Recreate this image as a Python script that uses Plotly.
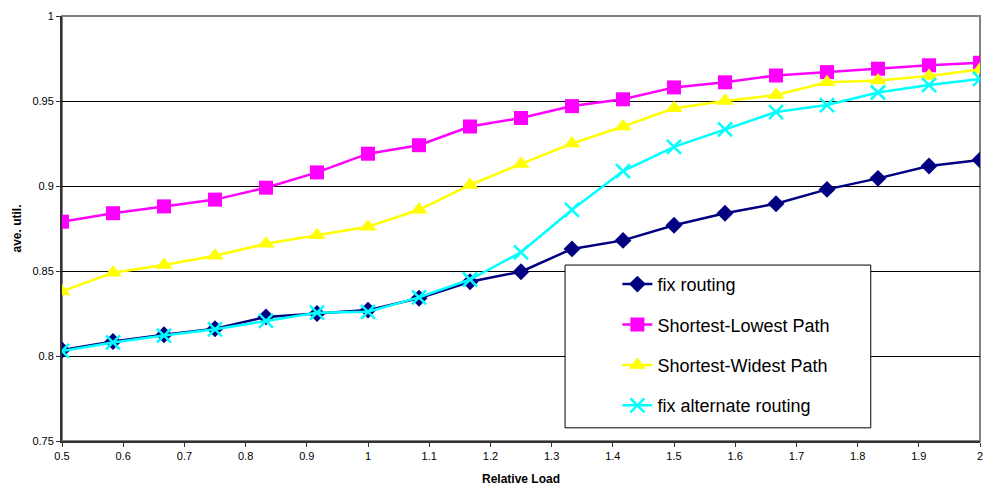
import plotly.graph_objects as go

x_load = [0.5, 0.5833, 0.6667, 0.75, 0.8333, 0.9167, 1.0, 1.0833, 1.1667, 1.25,
          1.3333, 1.4167, 1.5, 1.5833, 1.6667, 1.75, 1.8333, 1.9167, 2.0]

fix_routing = [0.8035, 0.8085, 0.8125, 0.816, 0.823, 0.825, 0.827, 0.834, 0.8437, 0.8496,
               0.863, 0.868, 0.8769, 0.884, 0.8896, 0.898, 0.9045, 0.9118, 0.9153]
shortest_lowest = [0.879, 0.884, 0.888, 0.892, 0.899, 0.908, 0.919, 0.924, 0.935, 0.940,
                   0.947, 0.951, 0.958, 0.961, 0.965, 0.967, 0.969, 0.971, 0.9725]
shortest_widest = [0.838, 0.849, 0.8535, 0.859, 0.866, 0.871, 0.876, 0.886, 0.9006, 0.913,
                   0.925, 0.935, 0.9457, 0.950, 0.9535, 0.961, 0.962, 0.9647, 0.9686]
fix_alternate = [0.803, 0.808, 0.812, 0.8157, 0.8206, 0.8255, 0.826, 0.8345, 0.845, 0.861,
                 0.886, 0.9088, 0.923, 0.9333, 0.9435, 0.9476, 0.955, 0.9594, 0.963]

series_names = ["fix routing", "Shortest-Lowest Path", "Shortest-Widest Path", "fix alternate routing"]

fig = go.Figure()
fig.add_trace(go.Scatter(x=x_load, y=fix_routing, name=series_names[0], mode="lines+markers",
                         legendgroup="a",
                         line=dict(color="#000080", width=2.5),
                         marker=dict(symbol="diamond", size=13, color="#000080")))
fig.add_trace(go.Scatter(x=x_load, y=shortest_lowest, name=series_names[1], mode="lines+markers",
                         legendgroup="b",
                         line=dict(color="#FF00FF", width=2.5),
                         marker=dict(symbol="square", size=14, color="#FF00FF")))
fig.add_trace(go.Scatter(x=x_load, y=shortest_widest, name=series_names[2], mode="lines+markers",
                         legendgroup="c",
                         line=dict(color="#FFFF00", width=2.5),
                         marker=dict(symbol="triangle-up", size=15, color="#FFFF00")))
fig.add_trace(go.Scatter(x=x_load, y=fix_alternate, name=series_names[3], mode="lines+markers",
                         legendgroup="d",
                         line=dict(color="#00FFFF", width=2.5),
                         marker=dict(symbol="x-thin", size=14, color="#00FFFF",
                                     line=dict(color="#00FFFF", width=2.5))))

fig.update_layout(
    width=988, height=486,
    margin=dict(l=62, r=8, t=16, b=45),
    paper_bgcolor="white", plot_bgcolor="white",
    font=dict(family="Arial, Liberation Sans, sans-serif", color="#000000", size=11),
    showlegend=True,
    legend=dict(x=0.605, y=0.412, xanchor="left", yanchor="top",
                bgcolor="rgba(0,0,0,0)", borderwidth=0,
                font=dict(size=18), tracegroupgap=14),
    shapes=[
        dict(type="rect", xref="paper", yref="paper", x0=0, y0=0, x1=1, y1=1,
             line=dict(color="#808080", width=2), layer="below"),
        dict(type="rect", xref="paper", yref="paper", x0=0.548, y0=0.031, x1=0.881, y1=0.414,
             line=dict(color="#000000", width=1), fillcolor="white", layer="above"),
    ],
)
fig.update_xaxes(range=[0.5, 2], dtick=0.1, tick0=0.5, showgrid=False, zeroline=False,
                 showline=True, linecolor="#333333", linewidth=2,
                 ticks="outside", ticklen=4, tickcolor="#333333", automargin=False,
                 title=dict(text="<b>Relative Load</b>", font=dict(size=12), standoff=14))
fig.update_yaxes(range=[0.75, 1], dtick=0.05, tick0=0.75, showgrid=True, gridcolor="#000000",
                 gridwidth=1, zeroline=False,
                 showline=True, linecolor="#333333", linewidth=2,
                 ticks="outside", ticklen=4, tickcolor="#333333", automargin=False,
                 title=dict(text="<b>ave. util.</b>", font=dict(size=12), standoff=8))

fig.write_html("out.html")
